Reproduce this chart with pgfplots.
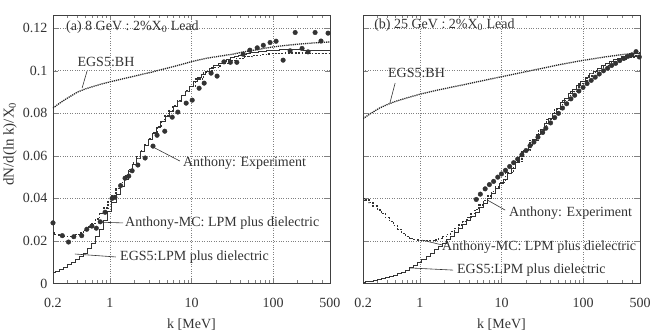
\documentclass[border=0pt]{standalone}
\usepackage{fontspec}
\setmainfont{Liberation Serif}
\usepackage{pgfplots}
\pgfplotsset{compat=1.18}
\usepackage{pgfplotstable}

% ---------- panel (a) 8 GeV ----------
\pgfplotstableread{
k y
0.2 0.0825
0.25 0.0852
0.32 0.0878
0.4 0.0900
0.5 0.0915
0.63 0.0927
0.79 0.0938
1 0.0948
1.26 0.0957
1.58 0.0966
2 0.0975
2.5 0.0984
3.2 0.0993
4 0.1003
5 0.1012
6.3 0.1022
7.9 0.1032
10 0.1043
12.6 0.1052
15.8 0.1060
20 0.1066
25 0.1072
32 0.1078
40 0.1086
50 0.1093
63 0.1099
79 0.1106
100 0.1112
126 0.1117
158 0.1121
200 0.1125
251 0.1128
316 0.1131
398 0.1133
500 0.1136
}\bhA
\pgfplotstableread{
k y
0.200 0.0050
0.224 0.0058
0.251 0.0067
0.282 0.0077
0.316 0.0088
0.355 0.0100
0.398 0.0112
0.447 0.0126
0.501 0.0143
0.562 0.0163
0.631 0.0188
0.708 0.0220
0.794 0.0256
0.891 0.0297
1.0 0.0338
1.12 0.0379
1.26 0.0418
1.41 0.0455
1.58 0.0490
1.78 0.0525
2.0 0.0558
2.24 0.0590
2.51 0.0620
2.82 0.0650
3.16 0.0678
3.55 0.0706
3.98 0.0733
4.47 0.0760
5.01 0.0786
5.62 0.0810
6.31 0.0834
7.08 0.0858
7.94 0.0882
8.91 0.0905
10 0.0927
11.2 0.0948
12.6 0.0967
14.1 0.0984
15.8 0.0999
17.8 0.1013
20 0.1025
22.4 0.1036
25.1 0.1046
28.2 0.1054
31.6 0.1061
35.5 0.1067
39.8 0.1072
44.7 0.1077
50.1 0.1081
56.2 0.1085
63.1 0.1088
70.8 0.1091
79.4 0.1093
89.1 0.1095
100 0.1096
112 0.1097
126 0.1098
141 0.1098
158 0.1098
178 0.1098
200 0.1098
224 0.1098
251 0.1097
282 0.1097
316 0.1096
355 0.1096
398 0.1095
447 0.1095
501 0.1095
}\lpmA
\pgfplotstableread{
k y
0.200 0.0238
0.224 0.0230
0.251 0.0225
0.282 0.0222
0.316 0.0222
0.355 0.0225
0.398 0.0230
0.447 0.0238
0.501 0.0250
0.562 0.0265
0.631 0.0283
0.708 0.0303
0.794 0.0330
0.891 0.0355
1.0 0.0385
1.12 0.0415
1.26 0.0445
1.41 0.0475
1.58 0.0505
1.78 0.0537
2.0 0.0567
2.24 0.0597
2.51 0.0625
2.82 0.0655
3.16 0.0683
3.55 0.0710
3.98 0.0737
4.47 0.0763
5.01 0.0789
5.62 0.0813
6.31 0.0837
7.08 0.0861
7.94 0.0884
8.91 0.0906
10 0.0927
12.6 0.0962
15.8 0.0993
20 0.1015
25.1 0.1033
31.6 0.1048
39.8 0.1058
50.1 0.1066
63.1 0.1072
79.4 0.1077
100 0.1080
126 0.1082
158 0.1083
200 0.1083
251 0.1083
316 0.1082
398 0.1082
501 0.1082
}\mcA
\pgfplotstableread{
k y
0.2 0.0285
0.26 0.0225
0.31 0.0195
0.36 0.0220
0.45 0.0225
0.52 0.0255
0.6 0.0270
0.68 0.0260
0.76 0.0290
0.87 0.0335
1.06 0.0400
1.15 0.0405
1.35 0.0460
1.53 0.0495
1.7 0.0505
1.87 0.0530
2.2 0.0557
2.7 0.0590
3.37 0.0646
3.78 0.0697
4.7 0.0716
5.8 0.0782
6.8 0.0806
8.6 0.0848
10.2 0.0862
12.4 0.0918
14.3 0.0942
17.4 0.0989
20.6 0.0975
25 0.1042
30 0.1040
36 0.1040
43 0.1078
52 0.1097
64 0.1108
76 0.1120
92 0.1133
109 0.1139
133 0.1050
162 0.1094
187 0.1180
227 0.1105
269 0.1089
328 0.1180
388 0.1140
473 0.1177
}\expA

% ---------- panel (b) 25 GeV ----------
\pgfplotstableread{
k y
0.2 0.0775
0.25 0.0800
0.32 0.0825
0.4 0.0842
0.5 0.0856
0.63 0.0868
0.79 0.0879
1 0.0890
1.26 0.0899
1.58 0.0908
2 0.0916
2.5 0.0924
3.2 0.0932
4 0.0940
5 0.0948
6.3 0.0956
7.9 0.0964
10 0.0972
12.6 0.0980
15.8 0.0988
20 0.0996
25 0.1004
32 0.1012
40 0.1020
50 0.1028
63 0.1035
79 0.1042
100 0.1049
126 0.1055
158 0.1061
200 0.1067
251 0.1072
316 0.1077
398 0.1081
500 0.1085
}\bhB
\pgfplotstableread{
k y
0.200 0.0006
0.224 0.0008
0.251 0.0011
0.282 0.0014
0.316 0.0018
0.355 0.0022
0.398 0.0027
0.447 0.0032
0.501 0.0038
0.562 0.0045
0.631 0.0053
0.708 0.0062
0.794 0.0073
0.891 0.0085
1.0 0.0098
1.12 0.0112
1.26 0.0127
1.41 0.0142
1.58 0.0158
1.78 0.0174
2.0 0.0190
2.24 0.0206
2.51 0.0222
2.82 0.0240
3.16 0.0258
3.55 0.0276
3.98 0.0295
4.47 0.0315
5.01 0.0335
5.62 0.0356
6.31 0.0378
7.08 0.0400
7.94 0.0422
8.91 0.0445
10 0.0468
11.2 0.0491
12.6 0.0515
14.1 0.0541
15.8 0.0568
17.8 0.0596
20 0.0625
22.4 0.0650
25.1 0.0675
28.2 0.0700
31.6 0.0725
35.5 0.0750
39.8 0.0775
44.7 0.0800
50.1 0.0825
56.2 0.0849
63.1 0.0872
70.8 0.0893
79.4 0.0912
89.1 0.0931
100 0.0950
112 0.0968
126 0.0985
141 0.0999
158 0.1012
178 0.1024
200 0.1035
224 0.1044
251 0.1053
282 0.1060
316 0.1066
355 0.1071
398 0.1076
447 0.1079
501 0.1082
}\lpmB
\pgfplotstableread{
k y
0.200 0.0400
0.224 0.0392
0.251 0.0380
0.282 0.0364
0.316 0.0346
0.355 0.0328
0.398 0.0310
0.447 0.0291
0.501 0.0272
0.562 0.0253
0.631 0.0236
0.708 0.0222
0.794 0.0212
0.891 0.0206
1.0 0.0203
1.12 0.0201
1.26 0.0201
1.41 0.0202
1.58 0.0205
1.78 0.0211
2.0 0.0220
2.24 0.0232
2.51 0.0245
2.82 0.0260
3.16 0.0275
3.55 0.0292
3.98 0.0310
4.47 0.0329
5.01 0.0348
5.62 0.0369
6.31 0.0390
7.08 0.0411
7.94 0.0432
8.91 0.0454
10 0.0476
12.6 0.0522
15.8 0.0572
20 0.0625
25.1 0.0673
31.6 0.0722
39.8 0.0770
50.1 0.0818
63.1 0.0862
79.4 0.0902
100 0.0940
126 0.0975
158 0.1002
200 0.1025
251 0.1043
316 0.1056
398 0.1065
501 0.1070
}\mcB
\pgfplotstableread{
k y
4.9 0.0395
5.5 0.0420
6.3 0.0445
7.1 0.0465
8.0 0.0480
9.0 0.0500
10 0.0515
11.2 0.0532
12.6 0.0550
14.1 0.0568
15.8 0.0585
17.8 0.0605
20 0.0625
22.4 0.0648
25 0.0665
28 0.0688
32 0.0710
35 0.0730
40 0.0755
45 0.0780
50 0.0800
56 0.0825
63 0.0845
71 0.0868
79 0.0885
89 0.0905
100 0.0922
112 0.0940
126 0.0955
141 0.0970
158 0.0985
178 0.1000
200 0.1012
224 0.1025
251 0.1035
282 0.1048
316 0.1058
355 0.1068
398 0.1075
447 0.1090
490 0.1065
}\expB

\definecolor{ink}{gray}{0.2}
\tikzset{
  bhline/.style={black!85, dash pattern=on 1.2pt off 0.9pt, line width=1.3pt},
  mcline/.style={ink, dash pattern=on 1.8pt off 1.6pt, line width=1.3pt},
  lpmline/.style={ink, line width=1.0pt},
  annot/.style={font=\fontsize{14}{16}\selectfont, text=ink, inner sep=0pt, anchor=west},
  leadline/.style={ink, line width=0.6pt},
}

\begin{document}
\begin{tikzpicture}
\begin{axis}[at={(0pt,0pt)},
    xmode=log, xmin=0.2, xmax=500, ymin=0, ymax=0.126,
    scale only axis, width=277pt, height=268pt,
    xtick={0.2,1,10,100,500}, xticklabels={0.2,1,10,100,500},
    minor xtick={0.3,0.4,0.5,0.6,0.7,0.8,0.9,2,3,4,5,6,7,8,9,20,30,40,50,60,70,80,90,200,300,400},
    ytick={0,0.02,0.04,0.06,0.08,0.1,0.12},
    yticklabels={0,0.02,0.04,0.06,0.08,0.1,0.12},
    xmajorgrids, ymajorgrids,
    major grid style={dotted, black!50, line width=0.6pt},
    tick align=inside, xtick pos=both, ytick pos=both,
    major tick length=5pt, minor tick length=3pt,
    axis line style={black!75, line width=0.8pt},
    tick label style={font=\fontsize{14}{16}\selectfont, text=ink},
    label style={font=\fontsize{14}{16}\selectfont, text=ink},
    xticklabel style={yshift=-11pt},
    yticklabel style={xshift=-2pt},
    xlabel={k [MeV]},
    xlabel style={at={(axis description cs:0.5,-0.153)}, anchor=center},
    ylabel={dN/d(ln k)/X\textsubscript{0}},
    ylabel style={at={(axis description cs:-0.155,0.52)}, anchor=center, font=\fontsize{15}{17}\selectfont}]
  \addplot[bhline] table[x=k,y=y] {\bhA};
  \addplot[mcline, const plot mark mid] table[x=k,y=y] {\mcA};
  \addplot[lpmline, const plot mark mid] table[x=k,y=y] {\lpmA};
  \addplot[only marks, mark=*, mark size=2.3pt, ink, mark options={fill=ink}] table[x=k,y=y] {\expA};
  \node[annot] at (rel axis cs:0.047,0.957) {(a) 8 GeV : 2\%X\textsubscript{0} Lead};
  \node[annot] at (rel axis cs:0.088,0.826) {EGS5:BH};
  \draw[leadline] (rel axis cs:0.123,0.793) -- (rel axis cs:0.105,0.729);
  \node[annot] at (rel axis cs:0.469,0.449) {Anthony: Experiment};
  \draw[leadline] (rel axis cs:0.354,0.513) -- (rel axis cs:0.458,0.457);
  \node[annot] at (rel axis cs:0.26,0.226) {Anthony-MC: LPM plus dielectric};
  \draw[leadline] (rel axis cs:0.162,0.229) -- (rel axis cs:0.253,0.226);
  \node[annot] at (rel axis cs:0.242,0.099) {EGS5:LPM plus dielectric};
  \draw[leadline] (rel axis cs:0.079,0.11) -- (rel axis cs:0.227,0.099);
\end{axis}
\begin{axis}[at={(310pt,0pt)},
    xmode=log, xmin=0.2, xmax=500, ymin=0, ymax=0.126,
    scale only axis, width=277pt, height=268pt,
    xtick={0.2,1,10,100,500}, xticklabels={0.2,1,10,100,500},
    minor xtick={0.3,0.4,0.5,0.6,0.7,0.8,0.9,2,3,4,5,6,7,8,9,20,30,40,50,60,70,80,90,200,300,400},
    ytick={0,0.02,0.04,0.06,0.08,0.1,0.12},
    yticklabels={},
    xmajorgrids, ymajorgrids,
    major grid style={dotted, black!50, line width=0.6pt},
    tick align=inside, xtick pos=both, ytick pos=both,
    major tick length=5pt, minor tick length=3pt,
    axis line style={black!75, line width=0.8pt},
    tick label style={font=\fontsize{14}{16}\selectfont, text=ink},
    label style={font=\fontsize{14}{16}\selectfont, text=ink},
    xticklabel style={yshift=-11pt},
    xlabel={k [MeV]},
    xlabel style={at={(axis description cs:0.5,-0.153)}, anchor=center}]
  \addplot[bhline] table[x=k,y=y] {\bhB};
  \addplot[mcline, const plot mark mid] table[x=k,y=y] {\mcB};
  \addplot[lpmline, const plot mark mid] table[x=k,y=y] {\lpmB};
  \addplot[only marks, mark=*, mark size=2.3pt, ink, mark options={fill=ink}] table[x=k,y=y] {\expB};
  \node[annot] at (rel axis cs:0.040,0.965) {(b) 25 GeV : 2\%X\textsubscript{0} Lead};
  \node[annot] at (rel axis cs:0.090,0.785) {EGS5:BH};
  \draw[leadline] (rel axis cs:0.116,0.748) -- (rel axis cs:0.097,0.673);
  \node[annot] at (rel axis cs:0.527,0.263) {Anthony: Experiment};
  \draw[leadline] (rel axis cs:0.448,0.312) -- (rel axis cs:0.513,0.274);
  \node[annot] at (rel axis cs:0.285,0.136) {Anthony-MC: LPM plus dielectric};
  \draw[leadline] (rel axis cs:0.213,0.162) -- (rel axis cs:0.285,0.144);
  \node[annot] at (rel axis cs:0.339,0.050) {EGS5:LPM plus dielectric};
  \draw[leadline] (rel axis cs:0.170,0.058) -- (rel axis cs:0.325,0.050);
\end{axis}
\pgfresetboundingbox
\useasboundingbox (-53pt,-50.5pt) rectangle (600pt,283.5pt);
\end{tikzpicture}
\end{document}
